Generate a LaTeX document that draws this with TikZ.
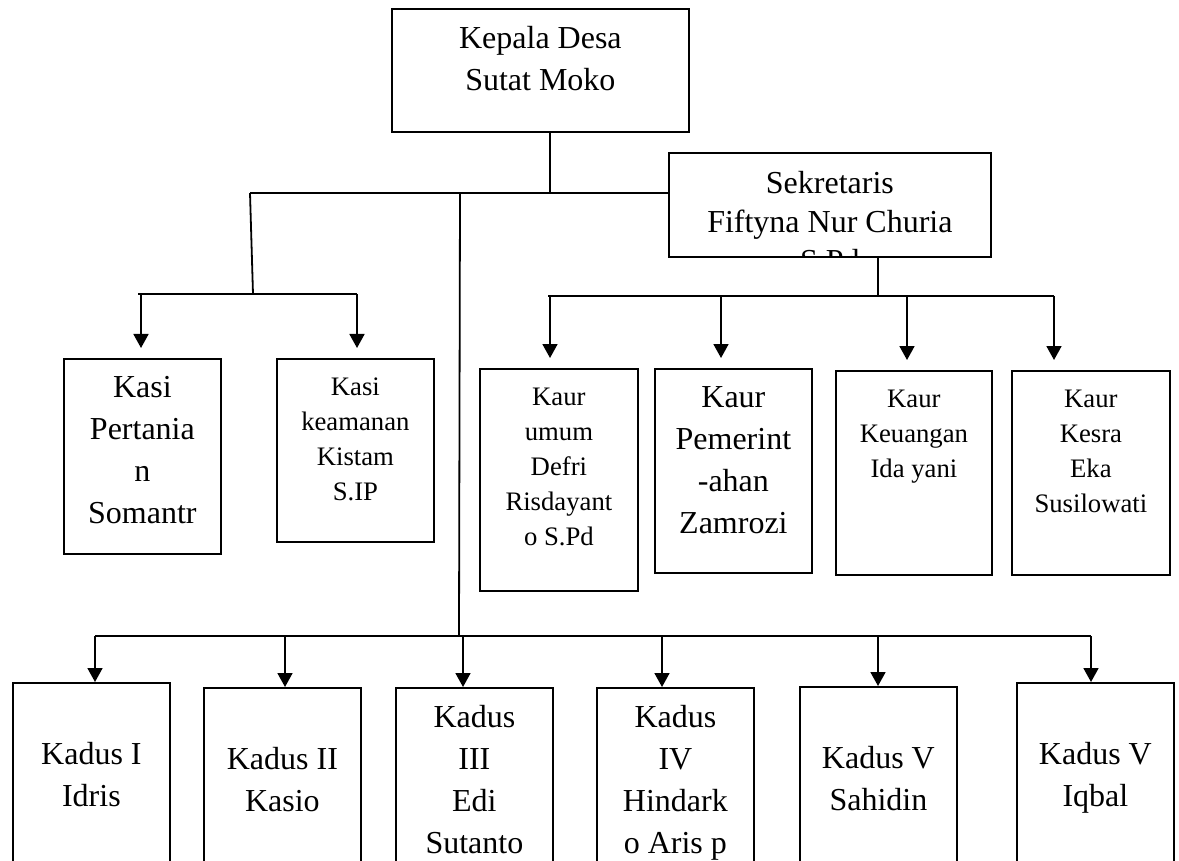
\documentclass[tikz,border=0pt]{standalone}
\usepackage{fontspec}
\setmainfont{Liberation Serif}
\usetikzlibrary{arrows.meta,positioning,calc}

\begin{document}
\begin{tikzpicture}
[x=1pt,y=-1pt,
%
box/.style={draw=black,line width=1.8pt,anchor=north west,inner sep=0pt},
txt/.style={anchor=north,align=center,inner sep=0pt,execute at begin node=\strut},
big/.style={txt,font=\fontsize{32}{42}\selectfont,yshift=-18pt},
small/.style={txt,font=\fontsize{26.7}{35}\selectfont,yshift=-20pt},
%
line/.style={draw,line width=1.8pt},
dedge/.style={line,-{Triangle[length=14pt,width=15pt]}}]
%
\useasboundingbox (0,0) rectangle (1179,861);
%
% Kepala Desa
\node (kades) [box,minimum width=297pt,minimum height=123pt] at (391,8) {};
\node (kadest) [big] at (kades.north) {Kepala Desa\\Sutat Moko};
% Sekretaris
\node (sekdes) [box,minimum width=322pt,minimum height=104pt] at (668,152) {};
\begin{scope}
\clip (sekdes.north west) rectangle (sekdes.south east);
\node (sekdest) [big,font=\fontsize{32}{39}\selectfont,yshift=-1pt] at (sekdes.north) {Sekretaris\\Fiftyna Nur Churia\\S.Pd};
\end{scope}
% Kasi
\node (kasi1) [box,minimum width=157pt,minimum height=195pt] at (63,358) {};
\node (kasi1t) [big] at (kasi1.north) {Kasi\\Pertania\\n\\Somantr};
\node (kasi2) [box,minimum width=157pt,minimum height=183pt] at (276,358) {};
\node (kasi2t) [small] at (kasi2.north) {Kasi\\keamanan\\Kistam\\S.IP};
% Kaur
\node (kaur1) [box,minimum width=158pt,minimum height=222pt] at (479,368) {};
\node (kaur1t) [small] at (kaur1.north) {Kaur\\umum\\Defri\\Risdayant\\o S.Pd};
\node (kaur2) [box,minimum width=157pt,minimum height=204pt] at (654,368) {};
\node (kaur2t) [big] at (kaur2.north) {Kaur\\Pemerint\\-ahan\\Zamrozi};
\node (kaur3) [box,minimum width=156pt,minimum height=204pt] at (835,370) {};
\node (kaur3t) [small] at (kaur3.north) {Kaur\\Keuangan\\Ida yani};
\node (kaur4) [box,minimum width=158pt,minimum height=204pt] at (1011,370) {};
\node (kaur4t) [small] at (kaur4.north) {Kaur\\Kesra\\Eka\\Susilowati};
% Kadus
\foreach \n/\x/\y/\s/\t in {1/12/682/42/{Kadus I\\Idris},2/203/687/42/{Kadus II\\Kasio},
  3/395/687/0/{Kadus\\III\\Edi\\Sutanto},4/596/687/0/{Kadus\\IV\\Hindark\\o Aris p},
  5/799/686/42/{Kadus V\\Sahidin},6/1016/682/42/{Kadus V\\Iqbal}}
{
\node (kadus\n) [box,minimum width=157pt,minimum height=200pt] at (\x,\y) {};
\node (kadust\n) [big,yshift=-\s pt] at (kadus\n.north) {\t};
}
%
% lines
\coordinate (top) at (550,193);
\coordinate (lb) at (250,193);
\coordinate (kb) at (253,294);
\coordinate (mid) at (460,193);
\coordinate (db) at (459,636);
\coordinate (sb) at (878,296);
\draw[line] (kades.south -| top) -- (top);
\draw[line] (lb) -- (lb -| sekdes.west);
\draw[line] (lb) -- (kb);
\draw[line] (138,294) -- (357,294);
\draw[line] (sb |- sekdes.south) -- (sb);
\draw[line] (548,296) -- (1054,296);
\draw[line] (mid) -- (db);
\draw[line] (95,636) -- (1091,636);
%
\foreach \x/\b in {141/kasi1,357/kasi2}
\draw[dedge,shorten >=10pt] (\x,294) -- (\x,294 |- \b.north);
\foreach \x/\b in {550/kaur1,721/kaur2,907/kaur3,1054/kaur4}
\draw[dedge,shorten >=10pt] (\x,296) -- (\x,296 |- \b.north);
\foreach \x/\b in {95/kadus1,285/kadus2,463/kadus3,662/kadus4,878/kadus5,1091/kadus6}
\draw[dedge] (\x,636) -- (\x,636 |- \b.north);
\end{tikzpicture}
\end{document}
